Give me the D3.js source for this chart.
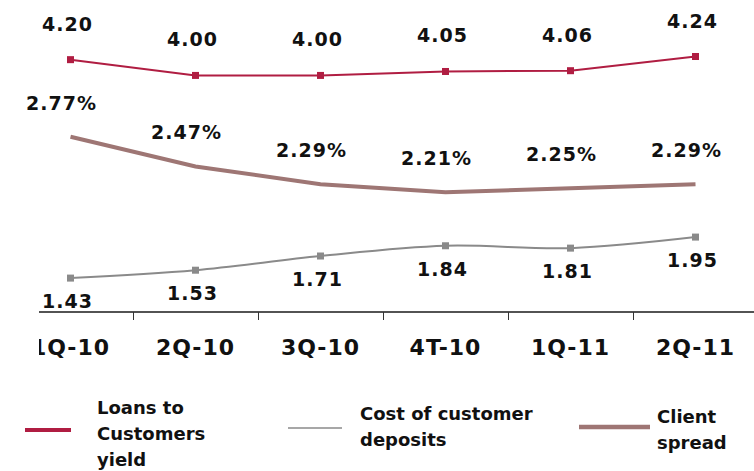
<!DOCTYPE html>
<html>
<head>
<meta charset="utf-8">
<script src="https://cdn.jsdelivr.net/npm/d3@7/dist/d3.min.js"></script>
<style>
  html, body { margin: 0; padding: 0; background: #fff; }
  svg { display: block; }
  text { font-family: "DejaVu Sans", Verdana, sans-serif; font-weight: bold; fill: #111; }
</style>
</head>
<body>
<svg id="chart" width="754" height="471"></svg>
<script>
// Quarterly yields, deposit cost and client spread
const quarters = ["1Q-10", "2Q-10", "3Q-10", "4T-10", "1Q-11", "2Q-11"];
const loansYield = [4.20, 4.00, 4.00, 4.05, 4.06, 4.24];
const depositCost = [1.43, 1.53, 1.71, 1.84, 1.81, 1.95];
const clientSpread = [2.77, 2.47, 2.29, 2.21, 2.25, 2.29];
const legendNames = [["Loans to", "Customers", "yield"], ["Cost of customer", "deposits"], ["Client", "spread"]];

const colors = { loans: "#b01d42", cost: "#8a8a8a", spread: "#9e7674" };

const svg = d3.select("#chart");
const axisY = 312, plotLeft = 39, plotRight = 754;

const x = d3.scaleBand().domain(quarters).range([8, 758]).padding(0);
const cx = q => x(q) + x.bandwidth() / 2;
// left axis: yield and cost; right axis: spread
const yMain = d3.scaleLinear().domain([1, 4.5]).range([axisY, 36]);
const ySpread = d3.scaleLinear().domain([1, 3]).range([axisY, 114]);

// x axis line, separator ticks and category labels
svg.append("line")
  .attr("x1", plotLeft).attr("x2", plotRight)
  .attr("y1", axisY).attr("y2", axisY)
  .attr("stroke", "#1a1a1a").attr("stroke-width", 1.5);

svg.append("g").selectAll("line")
  .data(quarters.slice(1))
  .join("line")
  .attr("x1", d => Math.round(x(d)) + 0.5).attr("x2", d => Math.round(x(d)) + 0.5)
  .attr("y1", axisY).attr("y2", axisY + 8)
  .attr("stroke", "#333").attr("stroke-width", 1);

svg.append("clipPath").attr("id", "axisClip")
  .append("rect").attr("x", plotLeft).attr("y", axisY + 8).attr("width", plotRight - plotLeft).attr("height", 60);

const xAxis = d3.axisBottom(x).tickSize(0).tickPadding(0);
const gx = svg.append("g")
  .attr("clip-path", "url(#axisClip)")
  .append("g")
  .attr("transform", `translate(0,${axisY})`)
  .call(xAxis);
gx.select(".domain").remove();
gx.selectAll("text")
  .attr("y", 43).attr("dy", null)
  .style("font-size", "22px")
  .style("letter-spacing", "1px")
  .attr("fill", "#111");

// spread line (thick, no markers)
svg.append("path")
  .datum(clientSpread)
  .attr("fill", "none")
  .attr("stroke", colors.spread)
  .attr("stroke-width", 4)
  .attr("d", d3.line().x((d, i) => cx(quarters[i])).y(d => ySpread(d)));

// loans yield line with square markers
svg.append("path")
  .datum(loansYield)
  .attr("fill", "none")
  .attr("stroke", colors.loans)
  .attr("stroke-width", 2)
  .attr("d", d3.line().x((d, i) => cx(quarters[i])).y(d => yMain(d)));

svg.append("g").selectAll("rect")
  .data(loansYield)
  .join("rect")
  .attr("x", (d, i) => cx(quarters[i]) - 3.5)
  .attr("y", d => yMain(d) - 3.5)
  .attr("width", 7).attr("height", 7)
  .attr("fill", colors.loans);

// deposit cost line, smoothed, with square markers
svg.append("path")
  .datum(depositCost)
  .attr("fill", "none")
  .attr("stroke", colors.cost)
  .attr("stroke-width", 2)
  .attr("d", d3.line().curve(d3.curveCatmullRom.alpha(0.5)).x((d, i) => cx(quarters[i])).y(d => yMain(d)));

svg.append("g").selectAll("rect")
  .data(depositCost)
  .join("rect")
  .attr("x", (d, i) => cx(quarters[i]) - 3.5)
  .attr("y", d => yMain(d) - 3.5)
  .attr("width", 7).attr("height", 7)
  .attr("fill", colors.cost);

// value labels
function labels(values, yScale, fmt, dx, dy) {
  svg.append("g").selectAll("text")
    .data(values)
    .join("text")
    .attr("x", (d, i) => cx(quarters[i]) + dx)
    .attr("y", d => yScale(d) + dy)
    .attr("text-anchor", "middle")
    .style("font-size", "19px")
    .style("letter-spacing", "1px")
    .text(fmt);
}
labels(loansYield, yMain, d => d.toFixed(2), -3, -29);
labels(clientSpread, ySpread, d => d.toFixed(2) + "%", -9, -27);
labels(depositCost, yMain, d => d.toFixed(2), -3, 30);

// legend
const legendItems = [
  { x1: 25, x2: 71, y: 430, color: colors.loans, width: 4, tx: 97, ty: 414 },
  { x1: 288, x2: 342, y: 428, color: colors.cost, width: 1.5, tx: 360, ty: 420 },
  { x1: 579, x2: 650, y: 427, color: colors.spread, width: 4.5, tx: 657, ty: 423 }
];
legendItems.forEach((item, k) => {
  svg.append("line")
    .attr("x1", item.x1).attr("x2", item.x2)
    .attr("y1", item.y).attr("y2", item.y)
    .attr("stroke", item.color).attr("stroke-width", item.width);
  const t = svg.append("text")
    .attr("x", item.tx).attr("y", item.ty)
    .style("font-size", "18px");
  t.selectAll("tspan")
    .data(legendNames[k])
    .join("tspan")
    .attr("x", item.tx)
    .attr("dy", (d, i) => i === 0 ? 0 : 26)
    .text(d => d);
});
</script>
</body>
</html>
